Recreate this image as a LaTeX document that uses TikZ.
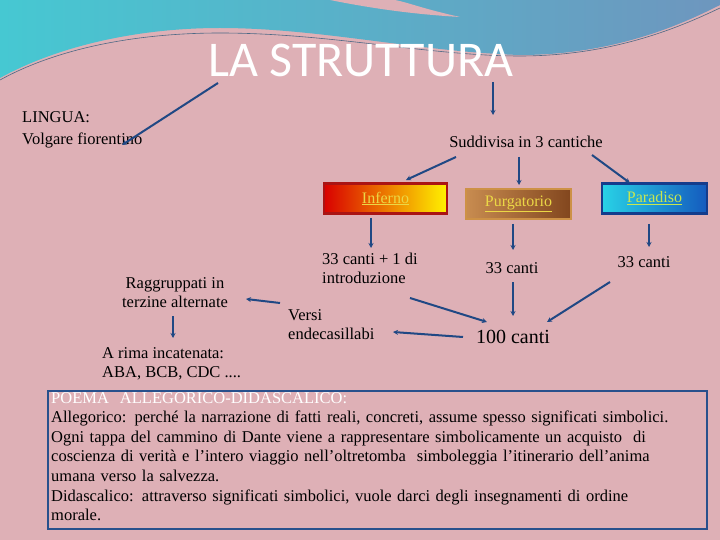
\documentclass[tikz,border=0pt]{standalone}
\usepackage{fontspec}
\setmainfont{Liberation Serif}
\newfontfamily\titlefont{Carlito}
\usetikzlibrary{arrows.meta}
\definecolor{bgpink}{RGB}{222,176,182}
\definecolor{arr}{RGB}{32,72,132}
\definecolor{boxblue}{RGB}{40,80,140}
\definecolor{skyA}{RGB}{70,200,210}
\definecolor{skyB}{RGB}{110,150,190}
\tikzset{
  con/.style={arr,line width=2pt,-{Stealth[length=5pt,width=5pt]}},
  txt/.style={font=\fontsize{16.5}{19}\selectfont,align=left,inner sep=0pt},
  ctxt/.style={font=\fontsize{16.5}{19}\selectfont,align=center,inner sep=0pt},
  cant/.style={minimum width=#1,minimum height=30pt,inner sep=0pt,line width=2.5pt,font=\fontsize{16}{18}\selectfont},
}
\begin{document}
\begin{tikzpicture}[x=1pt,y=-1pt]
\useasboundingbox (0,0) rectangle (720,540);
\fill[bgpink] (0,0) rectangle (720,540);
% top blue band
\shade[left color=skyA,right color=skyB] (0,0) -- (0,78) .. controls (60,45) and (140,28) .. (220,28)
  .. controls (320,28) and (420,52) .. (520,55) .. controls (620,55) and (690,20) .. (720,5) -- (720,0) -- cycle;
\fill[bgpink] (330,0) .. controls (370,8) and (410,14) .. (460,17) .. controls (420,8) and (410,3) .. (395,0) -- cycle;
\draw[skyB!70!black,line width=0.6pt] (0,80) .. controls (60,47) and (140,33) .. (220,33) .. controls (330,33) and (430,56) .. (520,56) .. controls (620,56) and (690,22) .. (720,8);
\node[font=\titlefont\fontsize{50}{54}\selectfont,text=white,inner sep=0pt] (title) at (361,60) {LA STRUTTURA};
\coordinate (t1) at (218,83); \coordinate (t2) at (493,82);
\node[txt,anchor=north west,font=\fontsize{16.5}{22}\selectfont] (lingua) at (22,111) {LINGUA:\\Volgare fiorentino};
\coordinate (le) at (122,145);
\node[ctxt] (sudd) at (526,142) {Suddivisa in 3 cantiche};
\node[cant=123pt,draw={rgb,255:red,170;green,20;blue,20},left color=red!85!black,right color=yellow!90!orange,text={rgb,255:red,235;green,215;blue,70}] (inf) at (385.5,198.5) {\underline{Inferno}};
\node[cant=105pt,draw={rgb,255:red,205;green,145;blue,70},left color={rgb,255:red,200;green,140;blue,80},right color={rgb,255:red,130;green,70;blue,30},text={rgb,255:red,235;green,215;blue,70}] (pur) at (518.5,204) {\underline{Purgatorio}};
\node[cant=105pt,draw={rgb,255:red,20;green,60;blue,140},left color={rgb,255:red,40;green,210;blue,230},right color={rgb,255:red,20;green,90;blue,190},text={rgb,255:red,200;green,230;blue,80}] (par) at (654.5,198.5) {\underline{Paradiso}};
\node[txt,anchor=north west] (c1) at (322,253) {33 canti + 1 di\\introduzione};
\node[ctxt] (c2) at (512,268) {33 canti};
\node[ctxt] (c3) at (644,262) {33 canti};
\node[ctxt,font=\fontsize{20}{22}\selectfont] (cento) at (513,337) {100 canti};
\node[txt,anchor=north west] (versi) at (288,309) {Versi\\endecasillabi};
\node[ctxt] (ragg) at (175,293) {Raggruppati in\\terzine alternate};
\node[txt,anchor=north west] (rima) at (102,347) {A rima incatenata:\\ABA, BCB, CDC ....};
\draw[con] (t1) -- (le);
\draw[con] (t2) -- ++(0,33);
\draw[con] (456,157) -- (406,180);
\draw[con] (519,157) -- (519,185);
\draw[con] (592,155) -- (630,183);
\draw[con] (371,218) -- (371,248);
\draw[con] (513,224) -- (513,250);
\draw[con] (649,224) -- (649,247);
\draw[con] (410,298) -- (487,322);
\draw[con] (513,282) -- (513,316);
\draw[con] (610,282) -- (547,322);
\draw[con] (463,337) -- (393,332);
\draw[con] (280,303) -- (246,299);
\draw[con] (173,316) -- (173,338);
\node[draw=boxblue,line width=2pt,minimum width=659pt,minimum height=138pt,anchor=north west,inner sep=0pt] (box) at (47,390) {};
\node[txt,anchor=north west,text width=655pt,font=\fontsize{16.5}{19.6}\selectfont] (boxt) at (51,392)
{\textcolor{white}{POEMA\ \ ALLEGORICO-DIDASCALICO:}\\
Allegorico: perché la narrazione di fatti reali, concreti, assume spesso significati simbolici.\\
Ogni tappa del cammino di Dante viene a rappresentare simbolicamente un acquisto\ \ di\\
coscienza di verità e l'intero viaggio nell'oltretomba\ \ simboleggia l'itinerario dell'anima\\
umana verso la salvezza.\\
Didascalico: attraverso significati simbolici, vuole darci degli insegnamenti di ordine\\
morale.};
\end{tikzpicture}
\end{document}
